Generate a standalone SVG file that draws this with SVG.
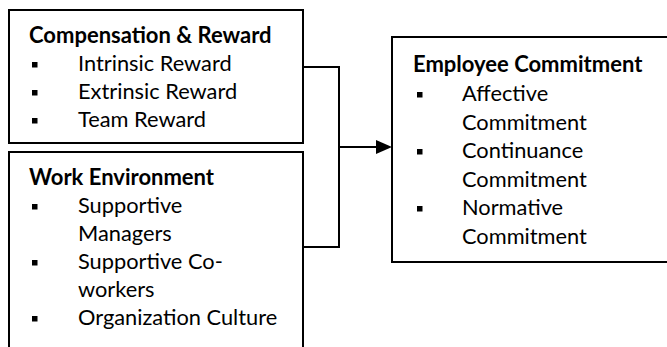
<svg xmlns="http://www.w3.org/2000/svg" width="667" height="347" viewBox="0 0 667 347">
<style>
.box{fill:#fff;stroke:#000;stroke-width:2}
.h{font-family:Lato,"Liberation Sans",sans-serif;font-weight:bold;font-size:22px;fill:#000}
.t{font-family:Lato,"Liberation Sans",sans-serif;font-size:21.8px;fill:#000}
.b{fill:#000}
.c{fill:none;stroke:#000;stroke-width:2}
</style>
<rect width="667" height="347" fill="#fff"/>
<g id="connectors">
<polyline class="c" points="303,67 339,67 339,247 303,247"/>
<line class="c" x1="339" y1="147" x2="377" y2="147"/>
<path d="M376,140 L392,147 L376,154 Z" fill="#000"/>
</g>
<g id="compensation">
<rect class="box" x="9" y="10" width="294" height="133"/>
<text class="h" x="29" y="43">Compensation &amp; Reward</text>
<rect class="b" x="32" y="62" width="5.5" height="5.5"/>
<text class="t" x="78" y="71">Intrinsic Reward</text>
<rect class="b" x="32" y="90" width="5.5" height="5.5"/>
<text class="t" x="78" y="99">Extrinsic Reward</text>
<rect class="b" x="32" y="118" width="5.5" height="5.5"/>
<text class="t" x="78" y="127">Team Reward</text>
</g>
<g id="environment">
<rect class="box" x="9" y="152" width="294" height="200"/>
<text class="h" x="29" y="185">Work Environment</text>
<rect class="b" x="32" y="204" width="5.5" height="5.5"/>
<text class="t" x="78" y="213">Supportive</text>
<text class="t" x="78" y="241">Managers</text>
<rect class="b" x="32" y="260" width="5.5" height="5.5"/>
<text class="t" x="78" y="269">Supportive Co-</text>
<text class="t" x="78" y="297">workers</text>
<rect class="b" x="32" y="316" width="5.5" height="5.5"/>
<text class="t" x="78" y="325">Organization Culture</text>
</g>
<g id="commitment">
<rect class="box" x="392" y="37" width="280" height="225"/>
<text class="h" x="413" y="72">Employee Commitment</text>
<rect class="b" x="417" y="92" width="5.5" height="5.5"/>
<text class="t" x="462" y="101">Affective</text>
<text class="t" x="462" y="129.5">Commitment</text>
<rect class="b" x="417" y="149" width="5.5" height="5.5"/>
<text class="t" x="462" y="158">Continuance</text>
<text class="t" x="462" y="186.5">Commitment</text>
<rect class="b" x="417" y="206" width="5.5" height="5.5"/>
<text class="t" x="462" y="215">Normative</text>
<text class="t" x="462" y="243.5">Commitment</text>
</g>
</svg>
